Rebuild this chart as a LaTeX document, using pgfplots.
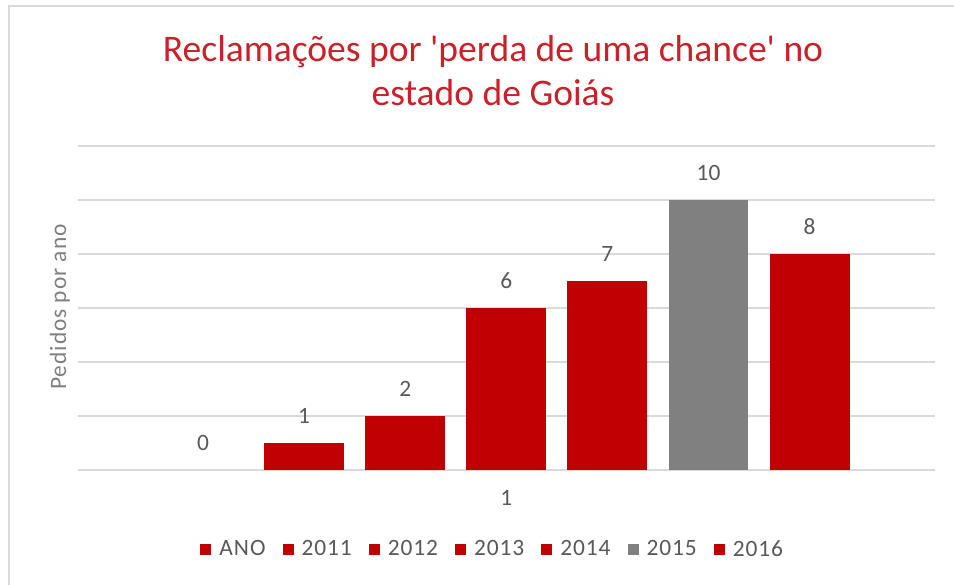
\documentclass[border=0pt]{standalone}
\usepackage{pgfplots}
\pgfplotsset{compat=1.18}
\usepackage{fontspec}
\setmainfont{Carlito}
\newfontfamily\labfont[LetterSpace=4]{Carlito}
\definecolor{barred}{RGB}{192,0,0}
\definecolor{bargray}{RGB}{128,128,128}
\definecolor{titlered}{RGB}{204,32,40}
\definecolor{gridgray}{RGB}{217,217,217}
\definecolor{labgray}{RGB}{89,89,89}
\definecolor{axlab}{RGB}{128,128,128}
\begin{document}
\begin{tikzpicture}[x=1bp,y=1bp]
\useasboundingbox (0,0) rectangle (954,-585);
\fill[white] (0,0) rectangle (954,-585);
\draw[gridgray, line width=2bp] (9,-600) -- (9,-6) -- (970,-6);
\node[titlered, font=\fontsize{37.7}{44}\selectfont, align=center] at (493,-71) {Reclamações por \textquotesingle perda de uma chance\textquotesingle\ no\\estado de Goiás};
\node[axlab, rotate=90, font=\labfont\fontsize{23.5}{28}\selectfont] at (60,-307) {Pedidos por ano};
\begin{axis}[
  at={(78bp,-470bp)}, anchor=south west, scale only axis,
  width=857bp, height=324bp,
  xmin=-1.236, xmax=7.24, ymin=0, ymax=12,
  ytick={0,2,...,12}, yticklabels={},
  ymajorgrids, grid style={gridgray, line width=1.2bp},
  axis line style={draw=none}, major tick length=0pt,
  xtick={3}, xticklabels={1},
  xticklabel style={labgray, font=\fontsize{23.5}{28}\selectfont, yshift=-17bp},
  ybar, bar width=0.79,
  nodes near coords,
  every node near coord/.append style={labgray, font=\fontsize{23.5}{28}\selectfont, yshift=16bp},
  /pgf/number format/assume math mode=true,
  legend columns=-1,
  legend style={draw=none, at={(0.484,-0.244)}, anchor=center, text=labgray,
    font=\labfont\fontsize{23.5}{28}\selectfont,
    /tikz/every odd column/.append style={column sep=6bp},
    /tikz/every even column/.append style={column sep=15bp}},
  legend image code/.code={\fill[#1,draw=none] (0bp,-5.5bp) rectangle (11bp,5.5bp);},
]
\addplot[fill=none, draw=none, bar shift=0pt,
  legend image code/.code={\fill[barred,draw=none] (0bp,-5.5bp) rectangle (11bp,5.5bp);}] coordinates {(0,0)};
\addplot[fill=barred, draw=none, bar shift=0pt] coordinates {(1,1)};
\addplot[fill=barred, draw=none, bar shift=0pt] coordinates {(2,2)};
\addplot[fill=barred, draw=none, bar shift=0pt] coordinates {(3,6)};
\addplot[fill=barred, draw=none, bar shift=0pt] coordinates {(4,7)};
\addplot[fill=bargray, draw=none, bar shift=0pt] coordinates {(5,10)};
\addplot[fill=barred, draw=none, bar shift=0pt] coordinates {(6,8)};
\legend{ANO,2011,2012,2013,2014,2015,2016}
\end{axis}
\end{tikzpicture}
\end{document}
